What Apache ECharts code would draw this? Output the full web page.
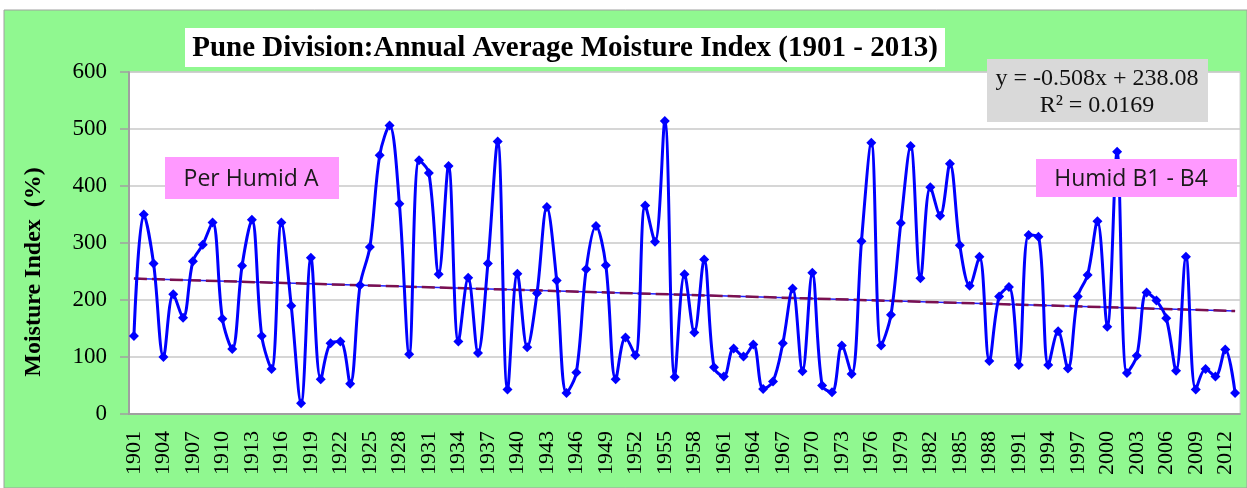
<!DOCTYPE html>
<html>
<head>
<meta charset="utf-8">
<script src="https://cdn.jsdelivr.net/npm/echarts@6/dist/echarts.min.js"></script>
<style>
html,body{margin:0;padding:0;background:#fff;}
#chart{width:1247px;height:488px;}
</style>
</head>
<body>
<div id="chart"></div>
<script>
// ---- data ----
const startYear = 1901;
const moistureIndex = [
  137, 350, 264, 100, 210, 169, 268, 297, 336, 167,
  114, 260, 341, 137, 79, 336, 190, 19, 274, 61,
  124, 127, 53, 226, 293, 454, 506, 369, 105, 445,
  423, 245, 435, 127, 239, 107, 264, 478, 43, 246,
  117, 212, 363, 234, 37, 73, 254, 330, 261, 61,
  134, 103, 366, 302, 514, 65, 245, 143, 271, 82,
  66, 115, 101, 122, 44, 57, 124, 220, 75, 248,
  50, 38, 120, 70, 303, 476, 120, 174, 335, 470,
  238, 398, 348, 439, 296, 225, 276, 93, 206, 223,
  86, 314, 311, 86, 145, 80, 206, 244, 338, 153,
  460, 72, 102, 213, 199, 168, 76, 276, 43, 79,
  66, 113, 37
];
const years = moistureIndex.map((_, i) => String(startYear + i));
const yTicks = [0, 100, 200, 300, 400, 500, 600];
const trendStart = 237.6;   // value of trend line at first year
const trendEnd = 180.7;     // value of trend line at last year
const titleText = 'Pune Division:Annual Average Moisture Index (1901 - 2013)';
const equationLines = ['y = -0.508x + 238.08', 'R\u00b2 = 0.0169'];
const zoneLabels = ['Per Humid A', 'Humid B1 - B4'];
const yAxisName = 'Moisture Index  (%)';

const GREEN = '#90F890';
const SERIF = '"Liberation Serif", "Times New Roman", serif';
const SANS = '"Open Sans", "Noto Sans", sans-serif';
const chart = echarts.init(document.getElementById('chart'), null, {renderer: 'canvas'});

const option = {
  backgroundColor: '#ffffff',
  animation: false,
  grid: {
    left: 129, top: 72, right: 7, bottom: 74,
    show: true, backgroundColor: '#ffffff', borderColor: '#d0d0d0', borderWidth: 1,
    containLabel: false
  },
  graphic: [
    {type: 'rect', z: -10, silent: true, shape: {x: 4, y: 10, width: 1243, height: 478},
     style: {fill: GREEN, stroke: '#a0a0a0', lineWidth: 1}},
    {type: 'text', z: 101, x: 34, y: 272, rotation: Math.PI / 2,
     style: {text: yAxisName, fill: '#000', align: 'center', verticalAlign: 'middle', font: 'bold 24px ' + SERIF}},
    {type: 'rect', z: 100, shape: {x: 185, y: 28, width: 760, height: 39}, style: {fill: '#ffffff'}},
    {type: 'text', z: 101, x: 565, y: 49, style: {text: titleText, fill: '#000', align: 'center', verticalAlign: 'middle',
      font: 'bold 29px ' + SERIF}},
    {type: 'rect', z: 100, shape: {x: 987, y: 59, width: 221, height: 63}, style: {fill: '#d9d9d9'}},
    {type: 'text', z: 101, x: 1097, y: 79, style: {text: equationLines[0], fill: '#111', align: 'center', verticalAlign: 'middle',
      font: '24px ' + SERIF}},
    {type: 'text', z: 101, x: 1097, y: 106, style: {text: equationLines[1], fill: '#111', align: 'center', verticalAlign: 'middle',
      font: '24px ' + SERIF}},
    {type: 'rect', z: 100, shape: {x: 165, y: 157, width: 174, height: 42}, style: {fill: '#ff99ff'}},
    {type: 'text', z: 101, x: 251, y: 179, style: {text: zoneLabels[0], fill: '#1a1a1a', align: 'center', verticalAlign: 'middle',
      font: '23px ' + SANS}},
    {type: 'rect', z: 100, shape: {x: 1036, y: 159, width: 201, height: 38}, style: {fill: '#ff99ff'}},
    {type: 'text', z: 101, x: 1131, y: 179, style: {text: zoneLabels[1], fill: '#1a1a1a', align: 'center', verticalAlign: 'middle',
      font: '23px ' + SANS}}
  ],
  xAxis: {
    type: 'category',
    data: years,
    boundaryGap: true,
    axisLine: {show: true, lineStyle: {color: '#a0a0a0', width: 2}},
    axisTick: {show: false},
    axisLabel: {
      interval: 2, rotate: 90, margin: 17, color: '#000',
      fontFamily: SERIF, fontSize: 22
    },
    splitLine: {show: false}
  },
  yAxis: {
    type: 'value',
    min: yTicks[0], max: yTicks[yTicks.length - 1], interval: 100,
    axisLine: {show: true, lineStyle: {color: '#a0a0a0', width: 2}},
    axisTick: {show: true, length: 9, lineStyle: {color: '#a0a0a0', width: 1.5}},
    axisLabel: {color: '#000', margin: 22, fontSize: 23, fontFamily: SERIF},
    splitLine: {show: true, lineStyle: {color: '#c8c8c8', width: 1.5}}
  },
  series: [
    {
      type: 'line',
      data: moistureIndex,
      smooth: 0.35,
      showAllSymbol: true,
      symbol: 'diamond',
      symbolSize: 10,
      lineStyle: {color: '#0000ff', width: 3},
      itemStyle: {color: '#0000ff'},
      z: 5,
      markLine: {
        silent: true, symbol: 'none', label: {show: false}, animation: false,
        data: [
          [{coord: [0, trendStart], lineStyle: {color: '#2020ff', width: 1.5, type: 'solid'}},
           {coord: [moistureIndex.length - 1, trendEnd]}],
          [{coord: [0, trendStart], lineStyle: {color: '#7a1050', width: 2.5, type: [13, 5]}},
           {coord: [moistureIndex.length - 1, trendEnd]}]
        ]
      }
    }
  ]
};
chart.setOption(option);
</script>
</body>
</html>
